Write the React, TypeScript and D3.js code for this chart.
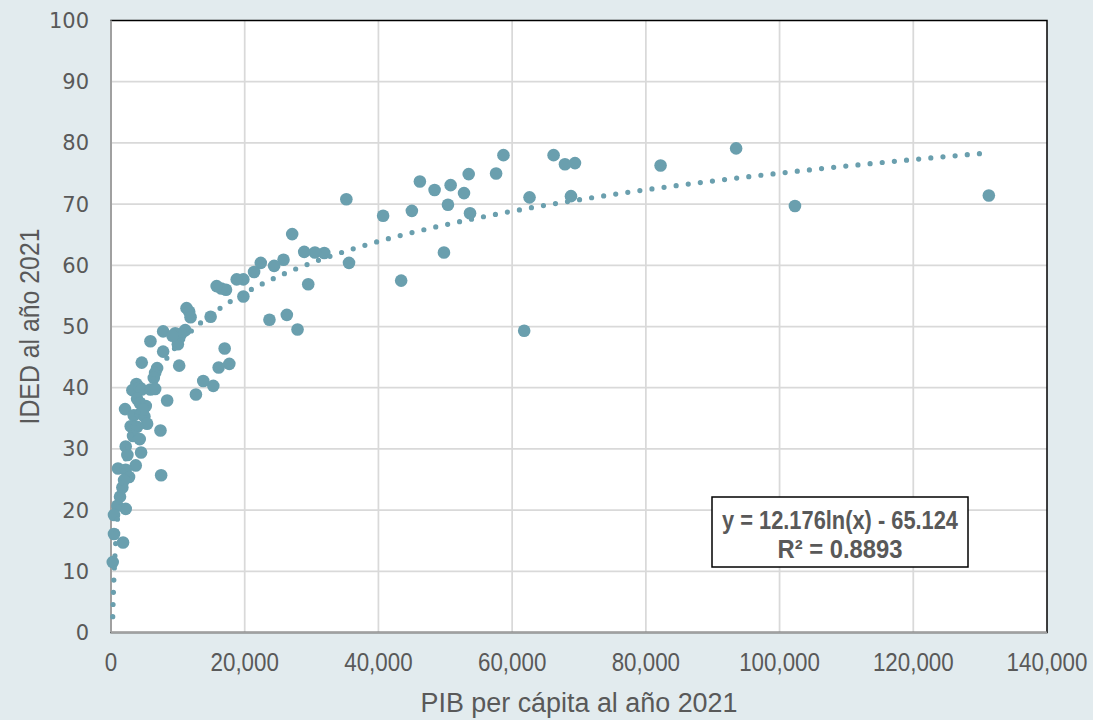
import React from "react";
import * as d3 from "d3";

// PIB per cápita 2021 (x) y IDED 2021 (y)
const pib = [
  131300, 102300, 93500, 82200, 69400, 67900, 66200, 68800, 62600, 61800,
  58700, 57600, 53500, 53700, 52800, 50800, 50400, 49800, 48400, 46200,
  45000, 43400, 40700, 35600, 35200, 31900, 30500, 29500, 28900, 27900,
  27100, 26300, 25800, 24400, 23700, 22400, 21400, 19800, 18800, 19800,
  17200, 16500, 15800, 17000, 17700, 16100, 15300, 13800, 12700, 14900,
  11300, 11700, 11900, 11100, 10500, 9600, 10000, 7800, 7800, 5900,
  10200, 4600, 6900, 6600, 6400, 8400, 7400, 7500, 3800, 3800,
  3200, 4300, 4600, 5900, 6600, 3900, 4300, 5200, 2100, 3400,
  4400, 5000, 5400, 2950, 3900, 3300, 4300, 2200, 2450, 4500,
  3700, 1050, 2200, 2700, 1950, 1700, 1350, 950, 2200, 450,
  450, 1800, 260, 9200, 4800,
];
const ided = [
  71.4, 69.7, 79.1, 76.3, 76.7, 76.5, 78.0, 71.3, 71.1, 49.3,
  78.0, 75.0, 74.9, 68.5, 71.8, 73.1, 69.9, 62.1, 72.3, 73.7,
  68.9, 57.5, 68.1, 60.4, 70.8, 62.0, 62.1, 56.9, 62.2, 49.5,
  65.1, 51.9, 60.9, 59.9, 51.1, 60.4, 58.9, 57.7, 57.7, 54.9,
  56.0, 56.2, 56.6, 46.4, 43.9, 43.3, 40.3, 41.1, 38.9, 51.6,
  53.0, 52.4, 51.5, 49.4, 48.8, 48.9, 47.1, 49.2, 45.9, 47.6,
  43.6, 44.1, 43.2, 42.4, 41.6, 37.9, 33.0, 25.7, 40.6, 39.8,
  39.6, 40.0, 39.7, 39.7, 39.8, 38.2, 37.5, 37.0, 36.5, 35.5,
  35.8, 35.3, 34.1, 33.7, 33.6, 32.1, 31.6, 30.4, 29.0, 29.4,
  27.3, 26.8, 26.6, 25.4, 24.9, 23.7, 22.2, 20.7, 20.2, 19.2,
  16.1, 14.7, 11.5, 48.5, 36.4,
];

const xTicks = [0, 20000, 40000, 60000, 80000, 100000, 120000, 140000];
const yTicks = [0, 10, 20, 30, 40, 50, 60, 70, 80, 90, 100];

// línea de tendencia logarítmica (Excel)
const trendA = 12.176;
const trendB = -65.124;
const eqLabel = "y = 12.176ln(x) - 65.124";
const r2Label = "R² = 0.8893";

const W = 1093;
const H = 720;
const margin = { top: 20.5, right: 46, bottom: 87.5, left: 111 };
const teal = "#6A9FAE";
const textColor = "#595959";
const sans = "'Liberation Sans', Arial, sans-serif";

export default function App() {
  const x = d3.scaleLinear().domain([0, 140000]).range([margin.left, W - margin.right]);
  const y = d3.scaleLinear().domain([0, 100]).range([H - margin.bottom, margin.top]);

  const points = pib.map((p, i) => ({ p, v: ided[i] }));

  const xMin = d3.min(pib) as number;
  const xMax = d3.max(pib) as number;
  const trendXs = d3.range(0, 1.00001, 1 / 800).map((t) => xMin * Math.pow(xMax / xMin, t));
  const trendPath = d3
    .line<number>()
    .x((d) => x(d))
    .y((d) => y(trendA * Math.log(d) + trendB))(trendXs);

  const fmt = d3.format(",");
  const x0 = x(0);
  const x1 = x(140000);
  const y0 = y(0);
  const y1 = y(100);

  return (
    <svg
      width={W}
      height={H}
      style={{ position: "fixed", left: 0, top: 0, display: "block" }}
    >
      <rect x={0} y={0} width={W} height={H} fill="#E2EBEE" />
      <rect x={x0} y={y1} width={x1 - x0} height={y0 - y1} fill="#fff" />

      {/* grid */}
      {yTicks.slice(1, -1).map((t) => (
        <line key={"gy" + t} x1={x0} x2={x1} y1={y(t)} y2={y(t)} stroke="#D9D9D9" strokeWidth={1.75} />
      ))}
      {xTicks.slice(1, -1).map((t) => (
        <line key={"gx" + t} x1={x(t)} x2={x(t)} y1={y1} y2={y0} stroke="#D9D9D9" strokeWidth={1.75} />
      ))}

      {/* plot border + axes */}
      <rect x={x0} y={y1} width={x1 - x0} height={y0 - y1} fill="none" stroke="#000" strokeWidth={1.5} />
      <line x1={x0} x2={x0} y1={y1} y2={y0} stroke="#A0A0A0" strokeWidth={2} />
      <line x1={x0} x2={x1} y1={y0} y2={y0} stroke="#A0A0A0" strokeWidth={2} />

      {/* points */}
      {points.map((d, i) => (
        <circle key={i} cx={x(d.p)} cy={y(d.v)} r={6.3} fill={teal} />
      ))}

      {/* trendline */}
      <path
        d={trendPath || ""}
        fill="none"
        stroke={teal}
        strokeWidth={5.2}
        strokeLinecap="round"
        strokeDasharray="0 12.2"
      />

      {/* y ticks */}
      {yTicks.map((t) => (
        <text
          key={"ty" + t}
          x={89}
          y={y(t)}
          dy="0.36em"
          textAnchor="end"
          fontFamily="'DejaVu Sans', Verdana, sans-serif"
          fontSize={21}
          fill={textColor}
        >
          {t}
        </text>
      ))}

      {/* x ticks */}
      {xTicks.map((t) => (
        <text
          key={"tx" + t}
          transform={`translate(${x(t)},671) scale(0.86,1)`}
          textAnchor="middle"
          fontFamily={sans}
          fontSize={26}
          fill={textColor}
        >
          {fmt(t)}
        </text>
      ))}

      {/* axis titles */}
      <text
        x={(x0 + x1) / 2}
        y={712}
        textAnchor="middle"
        fontFamily={sans}
        fontSize={27}
        textLength={317}
        lengthAdjust="spacingAndGlyphs"
        fill={textColor}
      >
        PIB per cápita al año 2021
      </text>
      <text
        transform={`translate(39,${(y0 + y1) / 2}) rotate(-90)`}
        textAnchor="middle"
        fontFamily={sans}
        fontSize={27}
        textLength={196}
        lengthAdjust="spacingAndGlyphs"
        fill={textColor}
      >
        IDED al año 2021
      </text>

      {/* equation box */}
      <rect x={712} y={497} width={256} height={70} fill="#fff" stroke="#000" strokeWidth={1.5} />
      <text
        x={840}
        y={529}
        textAnchor="middle"
        fontFamily={sans}
        fontWeight="bold"
        fontSize={25}
        textLength={236}
        lengthAdjust="spacingAndGlyphs"
        fill={textColor}
      >
        {eqLabel}
      </text>
      <text
        x={840}
        y={558}
        textAnchor="middle"
        fontFamily={sans}
        fontWeight="bold"
        fontSize={25}
        textLength={125}
        lengthAdjust="spacingAndGlyphs"
        fill={textColor}
      >
        {r2Label}
      </text>
    </svg>
  );
}
